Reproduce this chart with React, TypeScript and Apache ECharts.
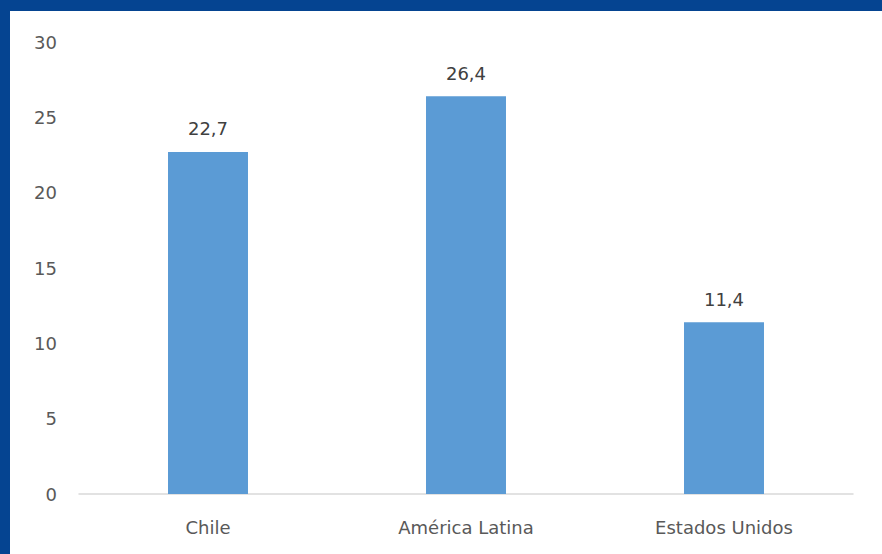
import React, { useEffect, useRef } from "react";
import * as echarts from "echarts";

const categories = ["Chile", "América Latina", "Estados Unidos"];
const values = [22.7, 26.4, 11.4];
const yTicks = [0, 5, 10, 15, 20, 25, 30];

export default function App() {
  const ref = useRef<HTMLDivElement>(null);
  useEffect(() => {
    if (!ref.current) return;
    const chart = echarts.init(ref.current, undefined, { renderer: "svg" });
    const font = "'DejaVu Sans', sans-serif";
    chart.setOption({
      animation: false,
      backgroundColor: "#ffffff",
      grid: { left: 69, right: 29, top: 31, bottom: 60, containLabel: false },
      xAxis: {
        type: "category",
        data: categories,
        axisLine: { lineStyle: { color: "#D9D9D9", width: 1.5 } },
        axisTick: { show: false },
        axisLabel: { color: "#595959", fontSize: 18, fontFamily: font, margin: 24 },
      },
      yAxis: {
        type: "value",
        min: yTicks[0],
        max: yTicks[yTicks.length - 1],
        interval: 5,
        splitLine: { show: false },
        axisLine: { show: false },
        axisTick: { show: false },
        axisLabel: { color: "#595959", fontSize: 18, fontFamily: font, margin: 22 },
      },
      series: [
        {
          type: "bar",
          data: values,
          barWidth: "31%",
          itemStyle: { color: "#5B9BD5" },
          label: {
            show: true,
            position: "top",
            distance: 14,
            color: "#404040",
            fontSize: 18,
            fontFamily: font,
            formatter: (p: any) => String(p.value).replace(".", ","),
          },
        },
      ],
    });
    return () => chart.dispose();
  }, []);
  return (
    <div style={{ position: "absolute", left: 0, top: 0, width: 882, height: 554, background: "#054491" }}>
      <div
        ref={ref}
        style={{ position: "absolute", left: 10, top: 11, width: 872, height: 543, background: "#ffffff" }}
      />
    </div>
  );
}
